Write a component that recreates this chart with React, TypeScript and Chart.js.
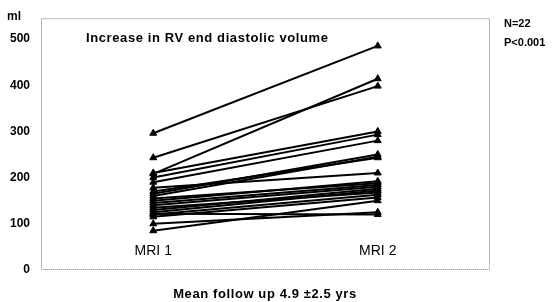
import React, { useEffect, useRef } from "react";
import { Chart, registerables } from "chart.js";

Chart.register(...registerables);

const categories = ["MRI 1", "MRI 2"];
const mri1 = [296, 243, 208, 210, 200, 190, 165, 160, 170, 178, 150, 155, 145, 140, 130, 125, 135, 120, 115, 100, 122, 85];
const mri2 = [485, 398, 414, 300, 293, 280, 250, 245, 243, 210, 192, 188, 184, 180, 176, 172, 168, 163, 157, 125, 120, 150];
const yTicks = [0, 100, 200, 300, 400, 500];
const titleText = "Increase in RV end diastolic volume";
const footText = "Mean follow up 4.9 ±2.5 yrs";
const unitText = "ml";
const statsText = ["N=22", "P<0.001"];

const FONT = "Arial, 'Liberation Sans', sans-serif";

const decor = {
  id: "decor",
  afterDraw(chart: any) {
    const { ctx, chartArea, scales } = chart;
    ctx.save();
    // dotted frame
    ctx.strokeStyle = "#777";
    ctx.lineWidth = 1;
    ctx.setLineDash([1, 1]);
    ctx.strokeRect(chartArea.left + 0.5, chartArea.top + 0.5, chartArea.right - chartArea.left - 1, chartArea.bottom - chartArea.top - 1);
    ctx.setLineDash([]);
    ctx.fillStyle = "#000";
    // category labels
    ctx.font = `14px ${FONT}`;
    ctx.textAlign = "center";
    ctx.textBaseline = "middle";
    const catX = [1, 3];
    categories.forEach((c, i) => {
      ctx.fillText(c, scales.x.getPixelForValue(catX[i]), 251);
    });
    // title
    ctx.font = `bold 13px ${FONT}`;
    ctx.textAlign = "left";
    (ctx as any).letterSpacing = "0.6px";
    ctx.fillText(titleText, 86, 38);
    // footer
    ctx.font = `bold 13px ${FONT}`;
    ctx.textAlign = "center";
    (ctx as any).letterSpacing = "0.6px";
    ctx.fillText(footText, 265, 294);
    (ctx as any).letterSpacing = "0px";
    // unit
    ctx.textAlign = "left";
    ctx.font = `bold 12px ${FONT}`;
    ctx.fillText(unitText, 7, 17);
    // stats
    ctx.font = `bold 11px ${FONT}`;
    ctx.fillText(statsText[0], 504, 24);
    ctx.fillText(statsText[1], 504, 43);
    ctx.restore();
  },
};

export default function App() {
  const ref = useRef<HTMLCanvasElement>(null);
  useEffect(() => {
    if (!ref.current) return;
    const datasets = mri1.map((v, i) => ({
      data: [
        { x: 1, y: v },
        { x: 3, y: mri2[i] },
      ],
      borderColor: "#000",
      backgroundColor: "#000",
      borderWidth: 2,
      pointStyle: "triangle",
      pointRadius: 4,
      pointBorderWidth: 1,
      showLine: true,
      tension: 0,
    }));
    const chart = new Chart(ref.current, {
      type: "scatter",
      data: { datasets },
      options: {
        animation: false,
        responsive: false,
        maintainAspectRatio: false,
        layout: { padding: { top: 17, right: 62, bottom: 32, left: 0 } },
        plugins: { legend: { display: false }, tooltip: { enabled: false } },
        scales: {
          x: { type: "linear", min: 0, max: 4, display: false },
          y: {
            type: "linear",
            min: 0,
            max: 545,
            grid: { display: false, drawTicks: false },
            border: { display: false },
            afterBuildTicks: (scale: any) => {
              scale.ticks = yTicks.map((v) => ({ value: v }));
            },
            afterFit: (scale: any) => {
              scale.width = 41;
            },
            ticks: {
              padding: 11,
              color: "#000",
              font: { family: FONT, size: 12, weight: "bold" },
            },
          },
        },
      },
      plugins: [decor],
    } as any);
    return () => chart.destroy();
  }, []);
  return (
    <div style={{ position: "fixed", left: 0, top: 0, width: 552, height: 302, background: "#fff" }}>
      <canvas ref={ref} width={552} height={302} style={{ width: 552, height: 302 }} />
    </div>
  );
}
